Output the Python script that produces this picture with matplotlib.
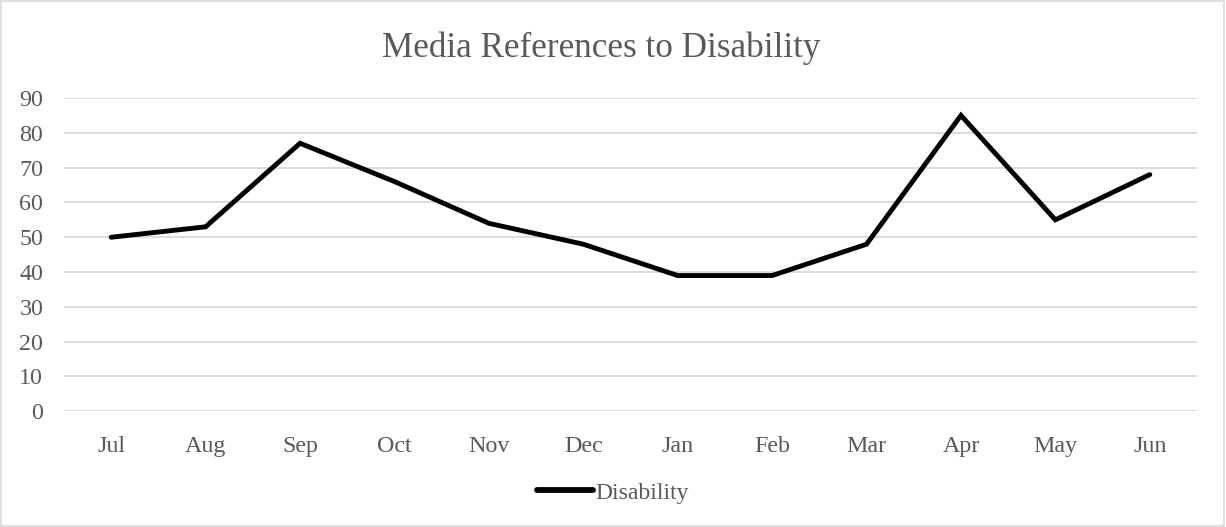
import matplotlib
matplotlib.use("Agg")
import matplotlib.pyplot as plt
from matplotlib.patches import Rectangle

months = ["Jul", "Aug", "Sep", "Oct", "Nov", "Dec", "Jan", "Feb", "Mar", "Apr", "May", "Jun"]
disability = [50, 53, 77, 66, 54, 48, 39, 39, 48, 85, 55, 68]
yticks = [0, 10, 20, 30, 40, 50, 60, 70, 80, 90]

plt.rcParams['font.family'] = ['Liberation Serif', 'DejaVu Serif']
TXT = "#595959"
GRID = "#d9d9d9"

fig = plt.figure(figsize=(12.26, 5.27), dpi=100)
ax = fig.add_axes([64/1226, 1-411.3/527, (1197-64)/1226, (411.3-98)/527])

x = list(range(len(months)))
ax.plot(x, disability, color="black", linewidth=3.5, solid_joinstyle="miter",
        solid_capstyle="round", label="Disability", zorder=3)

ax.set_xlim(-0.5, len(months) - 0.5)
ax.set_ylim(0, 90)
ax.set_yticks(yticks)
ax.set_yticklabels([str(v) for v in yticks])
ax.set_xticks(x)
ax.set_xticklabels(months)
ax.tick_params(axis="both", length=0, labelsize=17.3, colors=TXT)
ax.tick_params(axis="y", pad=15)
ax.tick_params(axis="x", pad=18)
for s in ax.spines.values():
    s.set_visible(False)
ax.grid(axis="y", color=GRID, linewidth=1.3)
ax.set_axisbelow(True)

fig.text(601/1226, 1-48/527, "Media References to Disability", ha="center", va="center",
         fontsize=25.3, color=TXT)

leg = fig.legend(loc="center", bbox_to_anchor=(0.5, 1-493/527), frameon=False,
                 fontsize=17, handlelength=2.4, handletextpad=0.1)
for t in leg.get_texts():
    t.set_color(TXT)
for h in leg.get_lines():
    h.set_linewidth(4.2)

fig.patches.append(Rectangle((0.001, 0.002), 0.997, 0.996, transform=fig.transFigure,
                             fill=False, edgecolor=GRID, linewidth=1.2))

fig.savefig("out.png", dpi=100)
